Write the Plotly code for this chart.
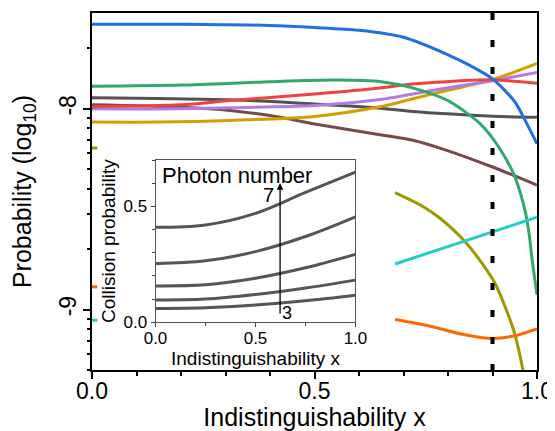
import numpy as np
import plotly.graph_objects as go

# ---------------- main panel data: x (indistinguishability), log10(probability)
blue_x = [0, 0.2, 0.4, 0.5, 0.6, 0.7, 0.8, 0.85, 0.9, 0.95, 0.975, 1.0]
blue_y = [-7.579, -7.579, -7.585, -7.595, -7.609, -7.644, -7.731, -7.785, -7.851, -7.965, -8.065, -8.174]

green_x = [0, 0.2, 0.4, 0.55, 0.65, 0.72, 0.8, 0.834, 0.872, 0.909, 0.947, 0.97, 0.981, 0.99, 1.0]
green_y = [-7.888, -7.882, -7.865, -7.857, -7.865, -7.896, -7.959, -8.008, -8.074, -8.174, -8.322, -8.479, -8.603, -8.768, -8.926]

gray_x = [0, 0.15, 0.31, 0.5, 0.647, 0.721, 0.797, 0.9, 1.0]
gray_y = [-7.945, -7.949, -7.955, -7.976, -7.997, -8.013, -8.025, -8.037, -8.042]

red_x = [0, 0.2, 0.31, 0.5, 0.647, 0.721, 0.797, 0.9, 1.0]
red_y = [-7.989, -7.980, -7.959, -7.926, -7.896, -7.876, -7.865, -7.856, -7.873]

purple_x = [0, 0.15, 0.31, 0.5, 0.647, 0.721, 0.797, 0.9, 1.0]
purple_y = [-8.000, -8.001, -7.995, -7.984, -7.954, -7.926, -7.896, -7.860, -7.819]

gold_x = [0, 0.15, 0.31, 0.5, 0.647, 0.721, 0.797, 0.9, 1.0]
gold_y = [-8.066, -8.066, -8.058, -8.038, -7.990, -7.950, -7.909, -7.855, -7.774]

brown_x = [0, 0.2, 0.31, 0.422, 0.497, 0.647, 0.721, 0.797, 0.9, 1.0]
brown_y = [-7.980, -7.992, -8.008, -8.042, -8.074, -8.129, -8.157, -8.207, -8.290, -8.380]

# partially hidden behind the inset (None = not visible)
olive_x = [0, 0.012, None, 0.681, 0.7445, 0.782, 0.838, 0.894, 0.909, 0.947, 0.968, 0.975]
olive_y = [-8.195, -8.195, None, -8.418, -8.488, -8.545, -8.661, -8.826, -8.884, -9.099, -9.297, -9.40]

cyan_x = [0, 0.012, None, 0.681, 0.9, 1.0]
cyan_y = [-9.053, -9.053, None, -8.773, -8.613, -8.540]

orange_x = [0, 0.012, None, 0.681, 0.76, 0.835, 0.9, 0.947, 1.0]
orange_y = [-8.887, -8.887, None, -9.050, -9.083, -9.124, -9.144, -9.132, -9.096]

marker_x = 0.9  # dashed vertical reference line

main_series = [
    (brown_x, brown_y, "#774a4a"),
    (gray_x, gray_y, "#525252"),
    (gold_x, gold_y, "#d39e00"),
    (purple_x, purple_y, "#b27be6"),
    (red_x, red_y, "#f2423f"),
    (green_x, green_y, "#30a96b"),
    (blue_x, blue_y, "#1f70e0"),
    (olive_x, olive_y, "#9a9a00"),
    (cyan_x, cyan_y, "#20cccc"),
    (orange_x, orange_y, "#ff6600"),
]

# ---------------- inset data: collision probability vs x, photon number 3..7
inset_x = [0, 0.25, 0.5, 0.75, 1.0]
coll_n3 = [0.060, 0.063, 0.075, 0.093, 0.117]
coll_n4 = [0.096, 0.100, 0.120, 0.148, 0.182]
coll_n5 = [0.157, 0.162, 0.190, 0.235, 0.293]
coll_n6 = [0.253, 0.265, 0.305, 0.370, 0.455]
coll_n7 = [0.410, 0.420, 0.470, 0.560, 0.648]

arrow_x = 0.623
arrow_y0 = 0.03
arrow_y1 = 0.60

y_range_log = [np.log10(5e-10), np.log10(3e-8)]
y_minor = [k * 10.0 ** e for e in (-10, -9, -8) for k in range(2, 10)]
y_minor = [v for v in y_minor if 5e-10 <= v <= 3e-8]

FONT = "Liberation Sans, Arial, sans-serif"

fig = go.Figure()

for xs, ys, col in main_series:
    fig.add_trace(go.Scatter(
        x=xs, y=[None if v is None else 10 ** v for v in ys],
        mode="lines", line=dict(color=col, width=3, shape="spline", smoothing=0.8),
        connectgaps=False, showlegend=False, hoverinfo="skip",
        xaxis="x", yaxis="y"))

fig.add_trace(go.Scatter(
    x=[marker_x, marker_x], y=[10 ** y_range_log[1], 10 ** y_range_log[0]],
    mode="lines", line=dict(color="black", width=4, dash="7px,20px"),
    showlegend=False, hoverinfo="skip", xaxis="x", yaxis="y"))

for ys in (coll_n3, coll_n4, coll_n5, coll_n6, coll_n7):
    fig.add_trace(go.Scatter(
        x=inset_x, y=ys, mode="lines",
        line=dict(color="#555555", width=3, shape="spline", smoothing=1.0),
        showlegend=False, hoverinfo="skip", xaxis="x2", yaxis="y2"))

# page body has an 8px default margin: figure is sized to fit the 555x431 window
fig.update_layout(
    width=547, height=423,
    margin=dict(l=84, r=18, t=5, b=61),
    paper_bgcolor="white", plot_bgcolor="white",
    font=dict(family=FONT, color="black"),
    xaxis=dict(
        domain=[0, 1], range=[0, 1], automargin=False,
        tickmode="array", tickvals=[0, 0.5, 1.0], ticktext=["0.0", "0.5", "1.0"],
        ticks="outside", ticklen=7, tickwidth=1.5, tickcolor="black",
        ticklabelstandoff=-7,
        linecolor="black", linewidth=1.5, mirror=True,
        showgrid=False, zeroline=False,
        tickfont=dict(size=23, family=FONT),
        title=dict(text="Indistinguishability x", font=dict(size=25, family=FONT), standoff=10),
        minor=dict(tickmode="linear", tick0=0, dtick=0.1, ticks="outside",
                   ticklen=4, tickwidth=1.5, tickcolor="black", showgrid=False),
    ),
    yaxis=dict(
        type="log", range=y_range_log, domain=[0, 1], automargin=False,
        tickmode="array", tickvals=[1e-9, 1e-8], ticktext=["-9", "-8"],
        tickangle=-90,
        ticks="outside", ticklen=7, tickwidth=1.5, tickcolor="black",
        ticklabelstandoff=-2,
        linecolor="black", linewidth=1.5, mirror=True,
        showgrid=False, zeroline=False,
        tickfont=dict(size=23, family=FONT),
        title=dict(text="Probability (log<sub>10</sub>)", font=dict(size=25, family=FONT), standoff=20),
        minor=dict(tickmode="array", tickvals=y_minor, ticks="outside",
                   ticklen=3.5, tickwidth=1.5, tickcolor="black", showgrid=False),
    ),
    xaxis2=dict(
        domain=[0.1427, 0.5921], anchor="y2", range=[0, 1], automargin=False,
        tickmode="array", tickvals=[0, 0.5, 1.0], ticktext=["0.0", "0.5", "1.0"],
        ticks="outside", ticklen=4, tickwidth=1, tickcolor="#444",
        ticklabelstandoff=-4,
        linecolor="#555", linewidth=1, mirror=True,
        showgrid=False, zeroline=False,
        tickfont=dict(size=17, family=FONT),
        title=dict(text="Indistinguishability x", font=dict(size=19, family=FONT), standoff=0),
        minor=dict(tickmode="array", tickvals=[0.25, 0.75], ticks="outside",
                   ticklen=2.5, tickwidth=1, tickcolor="#444", showgrid=False),
    ),
    yaxis2=dict(
        domain=[0.1336, 0.5882], anchor="x2", range=[0, 0.7], automargin=False,
        tickmode="array", tickvals=[0, 0.5], ticktext=["0.0", "0.5"],
        ticks="outside", ticklen=4, tickwidth=1, tickcolor="#444",
        linecolor="#555", linewidth=1, mirror=True,
        showgrid=False, zeroline=False,
        tickfont=dict(size=17, family=FONT),
        title=dict(text="Collision probability", font=dict(size=19, family=FONT), standoff=2),
        minor=dict(tickmode="linear", tick0=0, dtick=0.1, ticks="outside",
                   ticklen=2.5, tickwidth=1, tickcolor="#444", showgrid=False),
    ),
    annotations=[
        dict(text="Photon number", xref="x2", yref="y2", x=0.02, y=0.695,
             xanchor="left", yanchor="top", showarrow=False,
             font=dict(size=22, family=FONT, color="black")),
        dict(text="", xref="x2", yref="y2", x=arrow_x, y=arrow_y1,
             axref="x2", ayref="y2", ax=arrow_x, ay=arrow_y0,
             showarrow=True, arrowhead=2, arrowsize=1, arrowwidth=1.3, arrowcolor="black"),
        dict(text="7", xref="x2", yref="y2", x=0.563, y=0.55,
             showarrow=False, font=dict(size=20, family=FONT, color="black")),
        dict(text="3", xref="x2", yref="y2", x=0.657, y=0.04,
             showarrow=False, font=dict(size=18, family=FONT, color="black")),
    ],
)

fig.write_html("out.html")
